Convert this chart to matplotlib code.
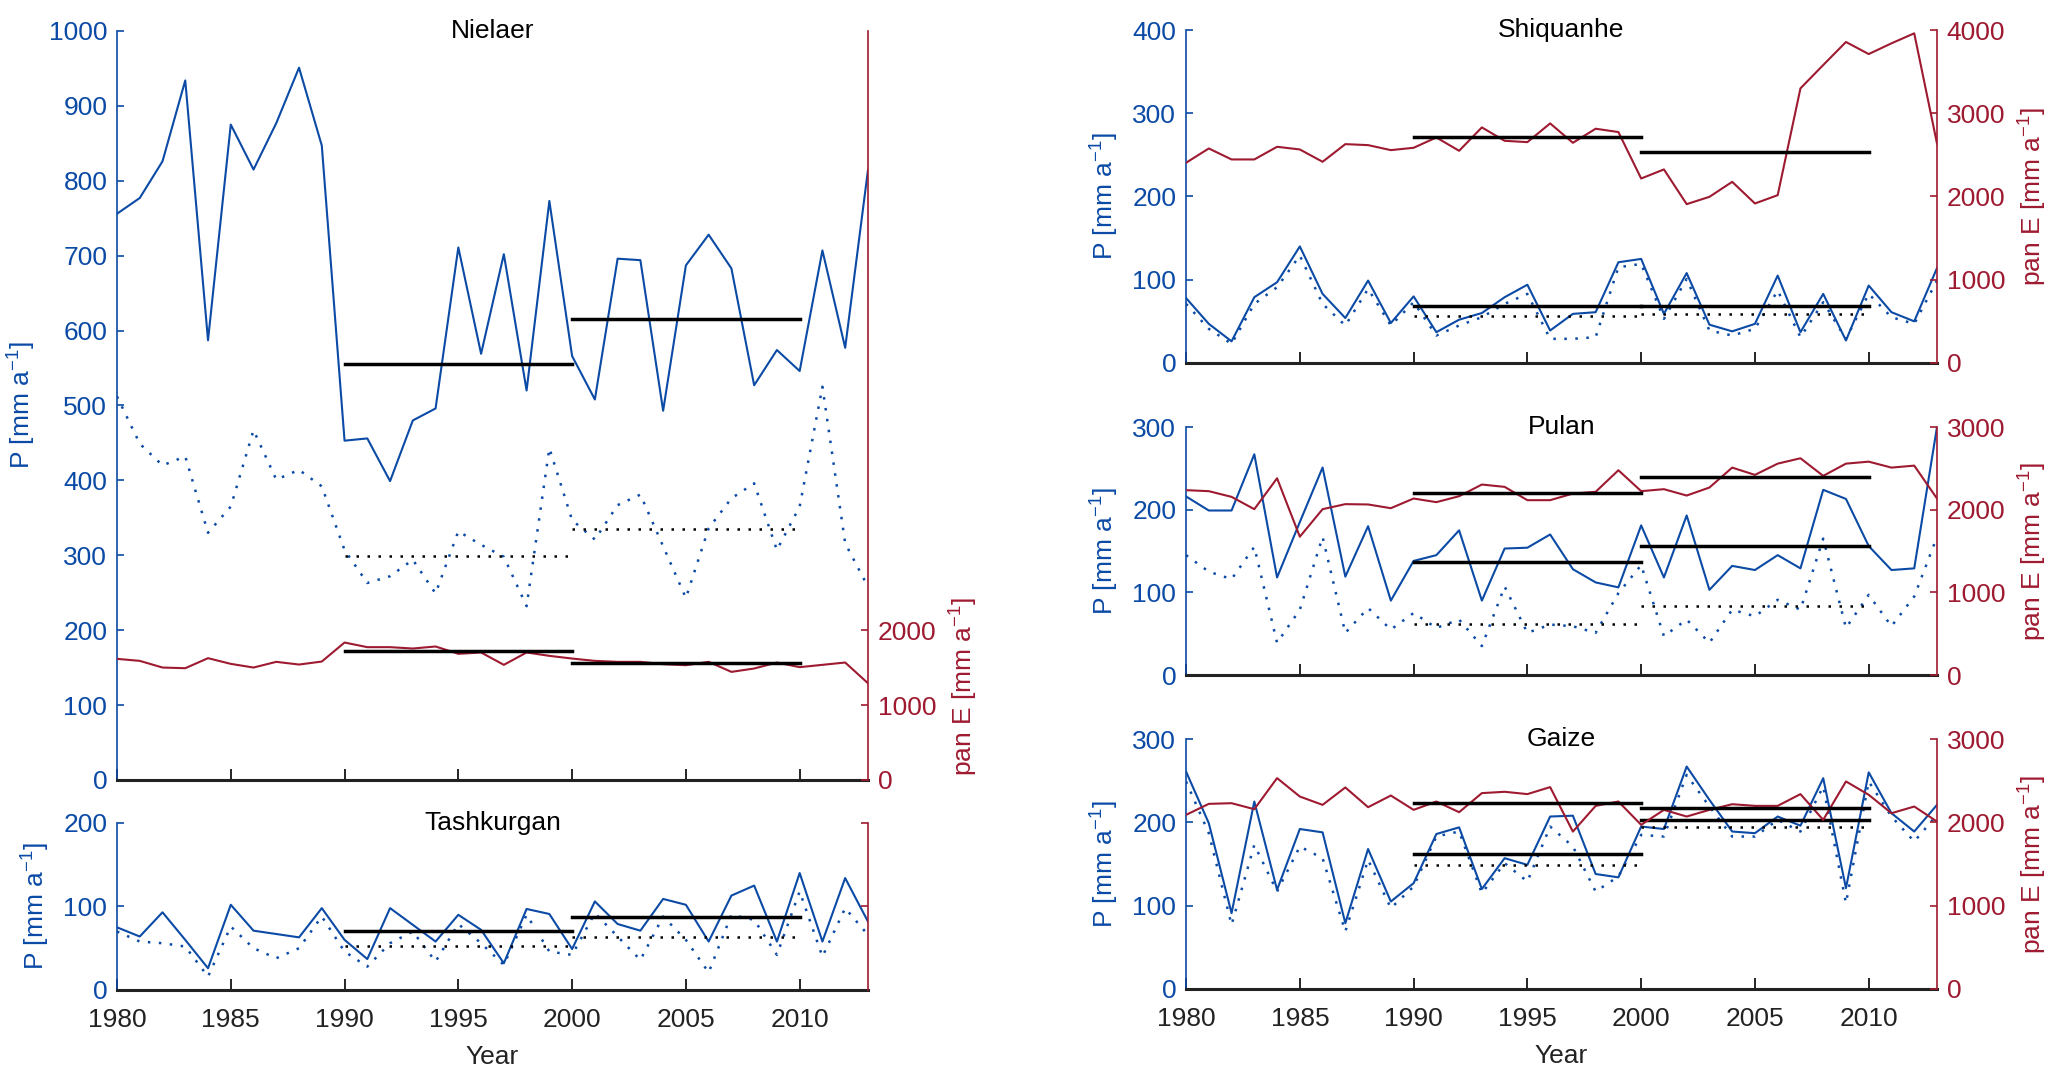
import numpy as np
import matplotlib.pyplot as plt

plt.rcParams['font.family'] = ['Liberation Sans', 'DejaVu Sans']
plt.rcParams['mathtext.default'] = 'regular'

years = np.arange(1980, 2014)
periods = [(1990, 2000), (2000, 2010)]

# annual values
nielaer_p = [756, 777, 826, 934, 587, 875, 815, 877, 951, 847, 453, 456, 399, 480, 496, 711, 569,
             702, 520, 773, 566, 508, 696, 694, 493, 687, 728, 683, 527, 574, 546, 707, 577, 814]
nielaer_p_dot = [512, 449, 420, 432, 330, 365, 467, 401, 414, 392, 307, 263, 272, 294, 249, 332, 314,
                 298, 232, 443, 347, 321, 367, 381, 312, 243, 336, 376, 396, 307, 365, 525, 316, 258]
nielaer_e = [1617, 1590, 1501, 1492, 1626, 1550, 1501, 1577, 1541, 1581, 1835, 1773, 1773, 1755, 1782,
             1684, 1702, 1537, 1702, 1657, 1621, 1590, 1577, 1577, 1546, 1532, 1577, 1443, 1488, 1568,
             1506, 1537, 1568, 1292]

tash_p = [75, 64, 93, 60, 26, 102, 71, 67, 63, 98, 60, 37, 98, 78, 58, 90, 72, 32, 97, 91, 49, 106,
          79, 71, 109, 102, 58, 113, 125, 58, 140, 58, 134, 82]
tash_p_dot = [70, 58, 56, 52, 16, 76, 50, 38, 50, 88, 46, 28, 56, 70, 34, 79, 56, 30, 90, 46, 42, 92,
              64, 36, 88, 60, 21, 90, 84, 42, 118, 40, 98, 66]

shiq_p = [78, 47, 26, 79, 97, 140, 83, 54, 99, 48, 80, 37, 52, 60, 79, 94, 39, 59, 61, 121, 125, 59,
          108, 46, 38, 47, 105, 37, 83, 27, 93, 61, 50, 114]
shiq_p_dot = [71, 41, 23, 71, 91, 129, 71, 45, 89, 45, 73, 33, 45, 55, 71, 83, 29, 29, 31, 115, 119,
              53, 101, 39, 33, 41, 87, 31, 73, 29, 83, 55, 47, 99]
shiq_e = [2405, 2577, 2445, 2445, 2597, 2565, 2417, 2629, 2617, 2557, 2585, 2709, 2549, 2830, 2669,
          2653, 2878, 2645, 2814, 2774, 2216, 2325, 1908, 1996, 2176, 1916, 2016, 3299, 3579, 3856,
          3711, 3840, 3960, 2637]

pulan_p = [216, 199, 199, 267, 118, 185, 251, 119, 180, 90, 138, 145, 175, 90, 153, 154, 170, 128,
           112, 106, 181, 118, 193, 103, 132, 127, 145, 129, 224, 213, 156, 127, 129, 300]
pulan_p_dot = [145, 125, 116, 155, 39, 79, 167, 51, 81, 55, 75, 57, 67, 35, 107, 51, 61, 59, 51, 99,
               133, 47, 67, 39, 79, 71, 91, 79, 165, 57, 97, 59, 95, 167]
pulan_e = [2236, 2224, 2155, 2006, 2380, 1673, 2006, 2067, 2063, 2018, 2135, 2091, 2163, 2304, 2276,
           2115, 2115, 2195, 2216, 2477, 2224, 2248, 2171, 2268, 2509, 2421, 2557, 2622, 2409, 2557,
           2581, 2509, 2533, 2135]

gaize_p = [261, 199, 91, 225, 119, 192, 188, 79, 168, 105, 127, 186, 194, 120, 157, 149, 207, 208,
           138, 134, 195, 192, 267, 227, 189, 187, 207, 196, 253, 121, 260, 211, 189, 221]
gaize_p_dot = [249, 187, 77, 173, 117, 171, 157, 69, 155, 97, 123, 183, 189, 115, 151, 129, 195, 171,
               117, 135, 185, 183, 257, 219, 183, 183, 203, 189, 243, 103, 249, 207, 177, 209]
gaize_e = [2090, 2222, 2230, 2158, 2531, 2310, 2210, 2419, 2182, 2322, 2150, 2250, 2122, 2351, 2367,
           2339, 2423, 1889, 2198, 2250, 1970, 2150, 2070, 2150, 2218, 2198, 2198, 2339, 2030, 2491,
           2331, 2110, 2190, 2010]

# decadal means (1990-2000, 2000-2010)
nielaer_means = {'p': [556, 615], 'dot': [299, 335], 'e': [1719, 1555]}
tash_means = {'p': [71, 87], 'dot': [53, 63], 'e': None}
shiq_means = {'p': [69, 68], 'dot': [56, 59], 'e': [2713, 2529]}
pulan_means = {'p': [137, 156], 'dot': [62, 84], 'e': [2207, 2396]}
gaize_means = {'p': [162, 203], 'dot': [149, 195], 'e': [2234, 2178]}

blue = '#0b4aa5'
red = '#9e1a30'
fs = 19
dot = (0, (1, 3.4))

fig = plt.figure(figsize=(20.67, 10.91), dpi=100)


def panel(rect, name, p, p_dot, e, means, p_ticks, e_lim, e_ticks, e_labels=True,
          xlabels=False, e_label_y=0.5):
    ax = fig.add_axes(rect)
    ax.plot(years, p, color=blue, lw=1.5)
    ax.plot(years, p_dot, color=blue, lw=1.8, ls=dot)
    for (a, b), m in zip(periods, means['p']):
        ax.plot([a, b], [m, m], color='k', lw=2.5)
    for (a, b), m in zip(periods, means['dot']):
        ax.plot([a, b], [m, m], color='k', lw=1.8, ls=dot)
    ax.set_xlim(1980, 2013)
    ax.set_ylim(p_ticks[0], p_ticks[-1])
    ax.set_yticks(p_ticks)
    ax.set_xticks(range(1980, 2011, 5))
    ax.tick_params(axis='y', direction='in', colors=blue, labelsize=fs, length=5, width=1.2, pad=7)
    ax.tick_params(axis='x', direction='in', colors='k', labelsize=fs, length=8, width=1.2, pad=13,
                   labelcolor='#222222')
    if not xlabels:
        ax.set_xticklabels([])
    else:
        ax.set_xlabel('Year', fontsize=fs, color='#222222', labelpad=9)
    for s in ['top', 'right']:
        ax.spines[s].set_visible(False)
    ax.spines['left'].set_color(blue)
    ax.spines['left'].set_linewidth(1.2)
    ax.spines['bottom'].set_color('#222222')
    ax.spines['bottom'].set_linewidth(2.2)
    ax.set_ylabel('P [mm a$^{-1}$]', color=blue, fontsize=fs, labelpad=8)
    ax.text(0.5, 1.0, name, transform=ax.transAxes, ha='center', va='center', fontsize=fs)

    ax2 = ax.twinx()
    if e is not None:
        ax2.plot(years, e, color=red, lw=1.5)
    if means['e'] is not None:
        for (a, b), m in zip(periods, means['e']):
            ax2.plot([a, b], [m, m], color='k', lw=2.5)
    ax2.set_ylim(*e_lim)
    ax2.set_yticks(e_ticks)
    ax2.tick_params(axis='y', direction='in', colors=red, labelsize=fs, length=5, width=1.2, pad=7)
    for s in ['top', 'left', 'bottom']:
        ax2.spines[s].set_visible(False)
    ax2.spines['right'].set_color(red)
    ax2.spines['right'].set_linewidth(1.2)
    if e_labels:
        ax2.set_ylabel('pan E [mm a$^{-1}$]', color=red, fontsize=fs, y=e_label_y, labelpad=8)
    else:
        ax2.set_yticklabels([])
    return ax, ax2


left, right, width = 0.0566, 0.5738, 0.3633

panel([left, 0.2851, width, 0.6865], 'Nielaer', nielaer_p, nielaer_p_dot, nielaer_e, nielaer_means,
      list(range(0, 1001, 100)), (0, 10000), [0, 1000, 2000], e_label_y=0.125)
panel([left, 0.0926, width, 0.1531], 'Tashkurgan', tash_p, tash_p_dot, None, tash_means,
      [0, 100, 200], (0, 200), [100, 200], e_labels=False, xlabels=True)
panel([right, 0.6673, width, 0.3052], 'Shiquanhe', shiq_p, shiq_p_dot, shiq_e, shiq_means,
      [0, 100, 200, 300, 400], (0, 4000), [0, 1000, 2000, 3000, 4000])
panel([right, 0.3813, width, 0.2273], 'Pulan', pulan_p, pulan_p_dot, pulan_e, pulan_means,
      [0, 100, 200, 300], (0, 3000), [0, 1000, 2000, 3000])
panel([right, 0.0935, width, 0.2291], 'Gaize', gaize_p, gaize_p_dot, gaize_e, gaize_means,
      [0, 100, 200, 300], (0, 3000), [0, 1000, 2000, 3000], xlabels=True)

fig.savefig('out.png', dpi=100, facecolor='white')
